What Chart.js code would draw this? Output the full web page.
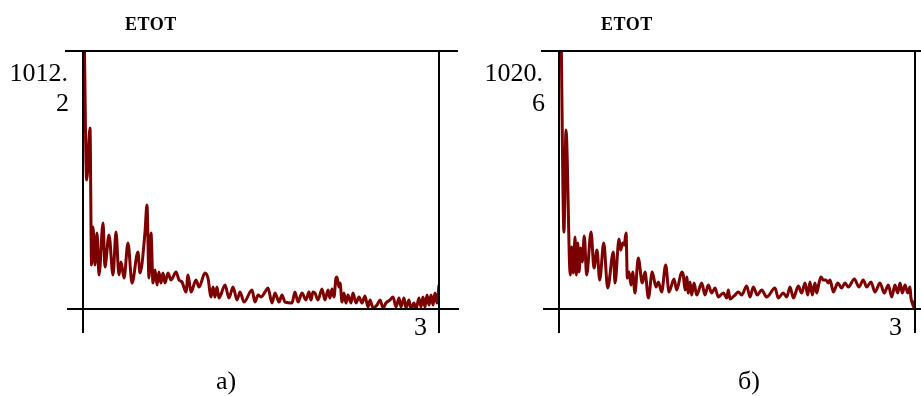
<!DOCTYPE html>
<html>
<head>
<meta charset="utf-8">
<script src="https://cdn.jsdelivr.net/npm/chart.js@4/dist/chart.umd.min.js"></script>
<style>
  html, body { margin: 0; padding: 0; background: #fff; }
  #page { position: relative; width: 921px; height: 396px; overflow: hidden; font-family: "Liberation Serif", "DejaVu Serif", serif; color: #000; }
  canvas { position: absolute; top: 0; }
  .lbl { position: absolute; font-size: 26px; line-height: 26px; white-space: nowrap; }
  .ttl { position: absolute; font-size: 18px; line-height: 18px; font-weight: bold; letter-spacing: 0.5px; white-space: nowrap; }
</style>
</head>
<body>
<div id="page">
  <canvas id="chartA" width="460" height="396" style="left:0"></canvas>
  <canvas id="chartB" width="461" height="396" style="left:460px"></canvas>

  <div class="ttl" style="left:125px; top:15px">ETOT</div>
  <div class="lbl" style="right:853px; top:60px">1012.</div>
  <div class="lbl" style="right:852px; top:90px">2</div>
  <div class="lbl" style="right:494px; top:314px">3</div>
  <div class="lbl" style="left:216px; top:368px">а)</div>

  <div class="ttl" style="left:601px; top:15px">ETOT</div>
  <div class="lbl" style="right:378px; top:60px">1020.</div>
  <div class="lbl" style="right:376px; top:90px">6</div>
  <div class="lbl" style="right:19px; top:314px">3</div>
  <div class="lbl" style="left:738px; top:368px">б)</div>
</div>

<script>
// ось x: время, 0..3
const xMax = 3;

// панель а)
const yTopA = 1012.2, yBotA = 1009.62;
const timeA = [0.008, 0.031, 0.059, 0.072, 0.084, 0.101, 0.118, 0.135, 0.169, 0.185,
  0.219, 0.253, 0.278, 0.303, 0.320, 0.346, 0.379, 0.413, 0.463, 0.480,
  0.522, 0.539, 0.556, 0.573, 0.590, 0.607, 0.624, 0.640, 0.657, 0.674,
  0.691, 0.716, 0.742, 0.784, 0.809, 0.834, 0.868, 0.885, 0.910, 0.952,
  0.978, 1.028, 1.053, 1.079, 1.096, 1.112, 1.129, 1.146, 1.197, 1.230,
  1.264, 1.298, 1.323, 1.357, 1.424, 1.449, 1.475, 1.500, 1.534, 1.559,
  1.593, 1.618, 1.652, 1.677, 1.702, 1.761, 1.786, 1.812, 1.845, 1.879,
  1.904, 1.921, 1.938, 1.955, 1.980, 2.014, 2.039, 2.065, 2.081, 2.098,
  2.115, 2.132, 2.140, 2.157, 2.166, 2.183, 2.199, 2.216, 2.233, 2.258,
  2.275, 2.301, 2.326, 2.351, 2.376, 2.402, 2.419, 2.444, 2.478, 2.503,
  2.528, 2.553, 2.587, 2.613, 2.638, 2.663, 2.680, 2.705, 2.722, 2.747,
  2.764, 2.789, 2.806, 2.831, 2.848, 2.865, 2.882, 2.899, 2.916, 2.933,
  2.950, 2.966, 2.983, 3.000];
const etotA = [1012.6, 1010.91, 1011.43, 1010.06, 1010.44, 1010.06, 1010.38, 1009.96, 1010.48, 1010.04,
  1010.36, 1009.96, 1010.39, 1009.96, 1010.09, 1009.93, 1010.28, 1009.88, 1010.19, 1009.98,
  1010.38, 1010.66, 1009.93, 1010.38, 1009.88, 1010.01, 1009.86, 1009.99, 1009.88, 1009.98,
  1009.88, 1009.98, 1009.91, 1009.99, 1009.91, 1009.89, 1009.79, 1009.96, 1009.79, 1009.91,
  1009.84, 1009.98, 1009.93, 1009.74, 1009.84, 1009.74, 1009.84, 1009.73, 1009.86, 1009.73,
  1009.84, 1009.71, 1009.79, 1009.69, 1009.81, 1009.69, 1009.76, 1009.74, 1009.79, 1009.83,
  1009.68, 1009.78, 1009.69, 1009.76, 1009.69, 1009.68, 1009.79, 1009.69, 1009.78, 1009.71,
  1009.79, 1009.71, 1009.79, 1009.78, 1009.71, 1009.82, 1009.71, 1009.81, 1009.73, 1009.82,
  1009.74, 1009.93, 1009.94, 1009.84, 1009.88, 1009.69, 1009.78, 1009.68, 1009.76, 1009.68,
  1009.78, 1009.68, 1009.74, 1009.68, 1009.75, 1009.64, 1009.71, 1009.63, 1009.66, 1009.71,
  1009.63, 1009.68, 1009.71, 1009.74, 1009.64, 1009.73, 1009.64, 1009.73, 1009.63, 1009.71,
  1009.62, 1009.68, 1009.62, 1009.73, 1009.64, 1009.74, 1009.64, 1009.76, 1009.66, 1009.76,
  1009.66, 1009.78, 1009.68, 1009.86];

// панель б)
const yTopB = 1020.6, yBotB = 1018.02;
const timeB = [0.017, 0.042, 0.059, 0.095, 0.107, 0.121, 0.135, 0.146, 0.158, 0.169,
  0.183, 0.196, 0.213, 0.233, 0.270, 0.295, 0.320, 0.343, 0.377, 0.410,
  0.458, 0.472, 0.506, 0.520, 0.537, 0.550, 0.565, 0.576, 0.590, 0.607,
  0.621, 0.640, 0.668, 0.702, 0.725, 0.753, 0.786, 0.817, 0.837, 0.865,
  0.899, 0.927, 0.969, 0.992, 1.034, 1.047, 1.062, 1.076, 1.090, 1.104,
  1.118, 1.138, 1.160, 1.203, 1.230, 1.258, 1.287, 1.315, 1.342, 1.385,
  1.413, 1.427, 1.441, 1.483, 1.511, 1.540, 1.582, 1.610, 1.637, 1.671,
  1.708, 1.750, 1.820, 1.848, 1.890, 1.919, 1.947, 1.975, 2.017, 2.045,
  2.073, 2.096, 2.115, 2.135, 2.157, 2.172, 2.191, 2.208, 2.227, 2.248,
  2.270, 2.284, 2.312, 2.349, 2.382, 2.410, 2.438, 2.489, 2.528, 2.564,
  2.593, 2.629, 2.663, 2.705, 2.741, 2.775, 2.804, 2.831, 2.854, 2.874,
  2.893, 2.916, 2.939, 2.958, 2.966, 2.977, 2.994, 3.000];
const etotB = [1020.9, 1018.79, 1019.81, 1018.36, 1018.64, 1018.38, 1018.74, 1018.36, 1018.68, 1018.39,
  1018.63, 1018.49, 1018.75, 1018.36, 1018.79, 1018.43, 1018.61, 1018.31, 1018.68, 1018.23,
  1018.59, 1018.28, 1018.72, 1018.61, 1018.68, 1018.66, 1018.78, 1018.33, 1018.39, 1018.26,
  1018.39, 1018.18, 1018.53, 1018.28, 1018.39, 1018.13, 1018.39, 1018.24, 1018.29, 1018.19,
  1018.46, 1018.19, 1018.32, 1018.21, 1018.39, 1018.36, 1018.21, 1018.34, 1018.18, 1018.29,
  1018.16, 1018.28, 1018.16, 1018.28, 1018.16, 1018.26, 1018.18, 1018.23, 1018.14, 1018.18,
  1018.13, 1018.21, 1018.12, 1018.16, 1018.19, 1018.16, 1018.25, 1018.14, 1018.24, 1018.16,
  1018.21, 1018.14, 1018.23, 1018.13, 1018.18, 1018.14, 1018.24, 1018.13, 1018.25, 1018.18,
  1018.28, 1018.16, 1018.29, 1018.16, 1018.28, 1018.18, 1018.28, 1018.34, 1018.31, 1018.31,
  1018.28, 1018.31, 1018.19, 1018.28, 1018.23, 1018.28, 1018.24, 1018.32, 1018.24, 1018.31,
  1018.24, 1018.29, 1018.19, 1018.28, 1018.18, 1018.26, 1018.14, 1018.26, 1018.18, 1018.28,
  1018.18, 1018.26, 1018.18, 1018.24, 1018.13, 1018.08, 1018.03, 1018.11];

// рамка с выступающими концами осей
const framePlugin = {
  id: "frame",
  afterDraw(chart) {
    const { ctx, chartArea: a } = chart;
    ctx.save();
    ctx.strokeStyle = "#000";
    ctx.lineWidth = 2;
    ctx.beginPath();
    ctx.moveTo(a.left - 18, a.top); ctx.lineTo(a.right + 19, a.top);
    ctx.moveTo(a.left - 16, a.bottom); ctx.lineTo(a.right + 20, a.bottom);
    ctx.moveTo(a.left, a.top); ctx.lineTo(a.left, a.bottom + 24);
    ctx.moveTo(a.right, a.top); ctx.lineTo(a.right, a.bottom + 24);
    ctx.stroke();
    ctx.restore();
  }
};

function makeChart(id, xs, ys, yMin, yMax, padLeft, padRight) {
  const pts = xs.map((x, i) => ({ x: x, y: ys[i] }));
  return new Chart(document.getElementById(id), {
    type: "line",
    data: {
      datasets: [{
        label: "ETOT",
        data: pts,
        borderColor: "#7d0000",
        borderWidth: 3,
        pointRadius: 0,
        cubicInterpolationMode: "monotone",
        fill: false
      }]
    },
    options: {
      responsive: false,
      animation: false,
      layout: { padding: { left: padLeft, right: padRight, top: 51, bottom: 87 } },
      scales: {
        x: { type: "linear", min: 0, max: xMax, display: false },
        y: { type: "linear", min: yMin, max: yMax, display: false }
      },
      plugins: { legend: { display: false }, tooltip: { enabled: false }, title: { display: false } }
    },
    plugins: [framePlugin]
  });
}

makeChart("chartA", timeA, etotA, yBotA, yTopA, 83, 21);
makeChart("chartB", timeB, etotB, yBotB, yTopB, 99, 6);
</script>
</body>
</html>
